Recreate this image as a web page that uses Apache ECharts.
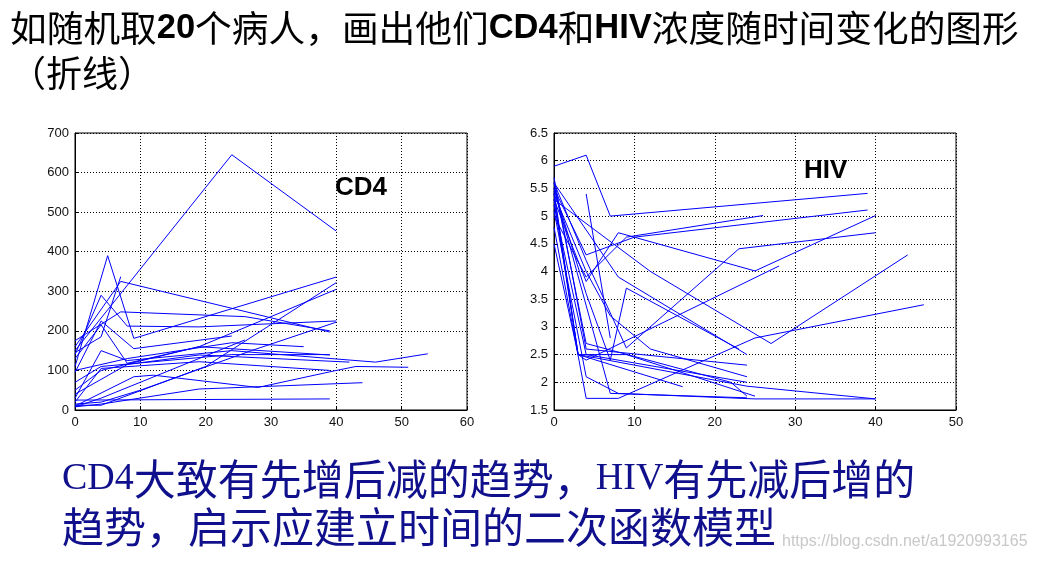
<!DOCTYPE html>
<html>
<head>
<meta charset="utf-8">
<script src="https://cdn.jsdelivr.net/npm/echarts@6/dist/echarts.min.js"></script>
<style>
html,body{margin:0;padding:0;background:#fff;}
#chart{width:1039px;height:562px;}
</style>
</head>
<body>
<div id="chart"></div>
<script>
// ---------- tick settings ----------
const cd4XTicks = [0, 60, 10];      // min, max, interval
const cd4YTicks = [0, 700, 100];
const hivXTicks = [0, 50, 10];
const hivYTicks = [1.5, 6.5, 0.5];

// ---------- CD4 per patient: [time, value] ----------
const cd4_01 = [[0,150],[24,645],[40,452]];
const cd4_02 = [[0,110],[5,390],[9,181],[40,336]];
const cd4_03 = [[0,160],[7,325],[39,197]];
const cd4_04 = [[0,145],[4,185],[7,337]];
const cd4_05 = [[0,140],[4,290],[8,212],[19,210],[40,225]];
const cd4_06 = [[0,95],[4,225],[9,155],[24,187]];
const cd4_07 = [[0,175],[7,248],[26,236],[39,200]];
const cd4_08 = [[0,12],[4,12],[20,110],[40,322]];
const cd4_09 = [[0,20],[4,105],[19,122],[39,100]];
const cd4_10 = [[0,30],[4,150],[8,125],[24,150],[46,121],[54,142]];
const cd4_11 = [[0,10],[9,84],[12,88],[28,57],[40,100],[43,110],[51,108]];
const cd4_12 = [[0,130],[4,215],[8,118],[19,160],[40,305]];
const cd4_13 = [[0,25],[39,28]];
const cd4_14 = [[0,8],[4,15],[19,53],[44,69]];
const cd4_15 = [[0,50],[4,100],[19,160],[39,139]];
const cd4_16 = [[0,40],[8,115],[19,139],[42,121]];
const cd4_17 = [[0,8],[4,30],[26,177]];
const cd4_18 = [[0,70],[4,110],[24,140],[39,140]];
const cd4_19 = [[0,15],[4,20],[10,50],[27,150],[40,222]];
const cd4_20 = [[0,100],[8,130],[24,170],[35,160]];

// ---------- HIV per patient: [time, value] ----------
const hiv_01 = [[0,5.9],[4,6.1],[7,5.0],[39,5.41]];
const hiv_02 = [[4,5.4],[7,2.8]];
const hiv_03 = [[0,5.3],[4,3.82],[8,4.70],[25,4.01],[40,5.01]];
const hiv_04 = [[0,5.5],[4,4.3],[10,4.62],[39,5.11]];
const hiv_05 = [[0,5.0],[4,3.9],[9,4.62],[26,5.01]];
const hiv_06 = [[0,5.5],[4,3.6],[7,2.4],[9,3.7],[23,2.6]];
const hiv_07 = [[0,5.6],[4,4.2],[9,2.62],[23,4.41],[40,4.70]];
const hiv_08 = [[0,5.3],[12,4.0],[27,2.7],[44,4.3]];
const hiv_09 = [[0,4.8],[4,1.71],[8,1.71],[25,2.8],[46,3.4]];
const hiv_10 = [[0,5.1],[4,2.1],[8,1.8],[25,1.7],[40,1.7]];
const hiv_11 = [[0,5.3],[3,2.5],[24,1.93],[40,1.70]];
const hiv_12 = [[0,5.4],[3,2.5],[4,2.4],[28,4.1]];
const hiv_13 = [[0,5.7],[4,2.6],[24,2.31]];
const hiv_14 = [[0,5.2],[4,2.5],[24,2.0]];
const hiv_15 = [[0,5.45],[3,2.5],[16,1.92]];
const hiv_16 = [[0,5.6],[4,2.7],[22,2.0],[24,1.75]];
const hiv_17 = [[0,5.5],[7,1.8],[24,1.72]];
const hiv_18 = [[0,4.5],[3,2.5],[9,2.5],[25,1.75]];
const hiv_19 = [[0,5.6],[8,3.9],[24,2.5]];
const hiv_20 = [[0,5.4],[4,4.0],[7,3.2],[12,2.6],[24,2.1]];

const cd4Lines = [cd4_01,cd4_02,cd4_03,cd4_04,cd4_05,cd4_06,cd4_07,cd4_08,cd4_09,cd4_10,
                  cd4_11,cd4_12,cd4_13,cd4_14,cd4_15,cd4_16,cd4_17,cd4_18,cd4_19,cd4_20];
const hivLines = [hiv_01,hiv_02,hiv_03,hiv_04,hiv_05,hiv_06,hiv_07,hiv_08,hiv_09,hiv_10,
                  hiv_11,hiv_12,hiv_13,hiv_14,hiv_15,hiv_16,hiv_17,hiv_18,hiv_19,hiv_20];

// ---------- texts ----------
const titleLine1 = ['如随机取','20','个病人，画出他们','CD4','和','HIV','浓度随时间变化的图形'];
const titleLine2 = '（折线）';
const cd4Label = 'CD4';
const hivLabel = 'HIV';
const noteLine1 = ['CD4','大致有先增后减的趋势，','HIV','有先减后增的'];
const noteLine2 = '趋势，启示应建立时间的二次函数模型';
const watermark = 'https://blog.csdn.net/a1920993165';

const chart = echarts.init(document.getElementById('chart'), null, {renderer:'canvas'});

function mkAxis(idx, t){
  return {gridIndex: idx, type:'value', min:t[0], max:t[1], interval:t[2],
    axisLine:{show:true, onZero:false, lineStyle:{color:'#000', width:1}},
    axisTick:{show:true, inside:true, length:4, lineStyle:{color:'#000'}},
    axisLabel:{color:'#111', fontSize:13, fontFamily:'Liberation Sans, Arial', margin:6},
    splitLine:{show:true, lineStyle:{color:'#000', width:1, type:[1,2]}}};
}

const series = [];
cd4Lines.forEach(d => series.push({type:'line', xAxisIndex:0, yAxisIndex:0, data:d,
  showSymbol:false, symbol:'none', silent:true, lineStyle:{color:'#0000ff', width:1}}));
hivLines.forEach(d => series.push({type:'line', xAxisIndex:1, yAxisIndex:1, data:d,
  showSymbol:false, symbol:'none', silent:true, lineStyle:{color:'#0000ff', width:1}}));

const cjk = 'Noto Sans CJK SC';
const lat = 'Liberation Sans';
const navy = '#10108c';

chart.setOption({
  animation:false,
  backgroundColor:'#fff',
  grid:[
    {left:75, top:133, width:392, height:277, show:true, borderColor:'#000', borderWidth:1, containLabel:false},
    {left:554, top:133, width:402, height:277, show:true, borderColor:'#000', borderWidth:1, containLabel:false}
  ],
  xAxis:[mkAxis(0, cd4XTicks), mkAxis(1, hivXTicks)],
  yAxis:[mkAxis(0, cd4YTicks), mkAxis(1, hivYTicks)],
  series: series,
  graphic:[
    {type:'text', left:10, top:10, style:{
      text: '{c|'+titleLine1[0]+'}{b|'+titleLine1[1]+'}{c|'+titleLine1[2]+'}{b|'+titleLine1[3]+'}{c|'+titleLine1[4]+'}{b|'+titleLine1[5]+'}{c|'+titleLine1[6]+'}',
      rich:{
        c:{fontFamily:cjk, fontSize:36.7, fill:'#000', fontWeight:'normal'},
        b:{fontFamily:lat, fontSize:34.5, fill:'#000', fontWeight:'bold'}
      }}},
    {type:'text', left:10, top:55, style:{text:titleLine2, fontFamily:cjk, fontSize:36, fill:'#000'}},
    {type:'text', left:335, top:175, style:{text:cd4Label, fontFamily:lat, fontSize:26, fontWeight:'bold', fill:'#000'}},
    {type:'text', left:804, top:158, style:{text:hivLabel, fontFamily:lat, fontSize:26, fontWeight:'bold', fill:'#000'}},
    {type:'text', left:62, top:458, style:{
      text:'{l|'+noteLine1[0]+'}{c|'+noteLine1[1]+'}{l|'+noteLine1[2]+'}{c|'+noteLine1[3]+'}',
      rich:{
        c:{fontFamily:cjk, fontSize:42, fill:navy},
        l:{fontFamily:'Liberation Serif', fontSize:38, fill:navy}
      }}},
    {type:'text', left:62, top:506, style:{text:noteLine2, fontFamily:cjk, fontSize:42, fill:navy}},
    {type:'text', left:782, top:534, style:{text:watermark, fontFamily:lat, fontSize:16, fill:'#c8c8c8'}}
  ]
});
</script>
</body>
</html>
